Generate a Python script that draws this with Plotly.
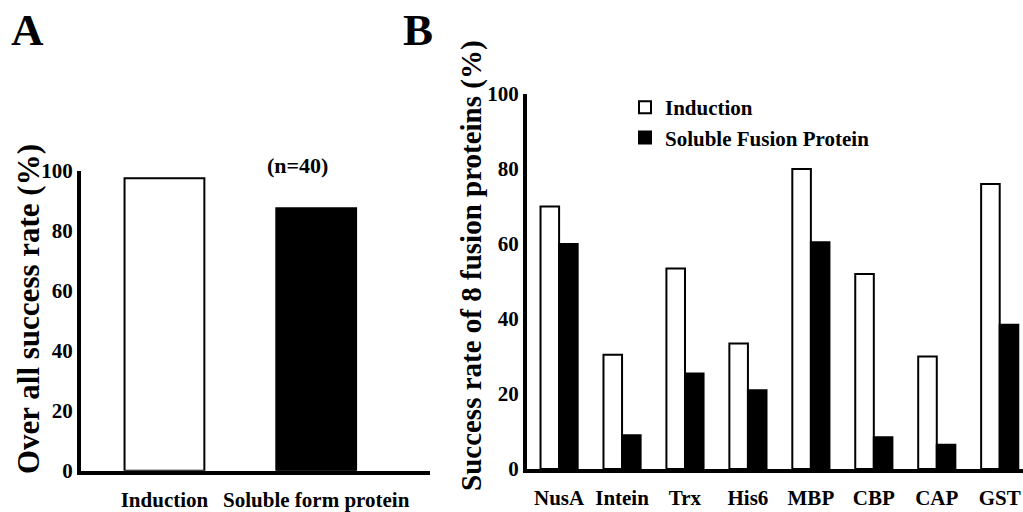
import plotly.graph_objects as go

# Panel A data
a_categories = ["Induction", "Soluble form protein"]
a_values = [97.5, 87.5]
a_colors = ["white", "black"]

# Panel B data
b_categories = ["NusA", "Intein", "Trx", "His6", "MBP", "CBP", "CAP", "GST"]
b_induction = [70, 30.5, 53.5, 33.5, 80, 52, 30, 76]
b_soluble = [60, 9, 25.5, 21, 60.5, 8.5, 6.5, 38.5]
y_ticks = [0, 20, 40, 60, 80, 100]

FONT = "Liberation Serif"

fig = go.Figure()

fig.add_trace(go.Bar(
    x=a_categories, y=a_values, width=0.526,
    marker=dict(color=a_colors, line=dict(color="black", width=2)),
    xaxis="x", yaxis="y", showlegend=False,
))

fig.add_trace(go.Bar(
    x=b_categories, y=b_induction, name="Induction",
    marker=dict(color="white", line=dict(color="black", width=2)),
    xaxis="x2", yaxis="y2",
))
fig.add_trace(go.Bar(
    x=b_categories, y=b_soluble, name="Soluble Fusion Protein",
    marker=dict(color="black", line=dict(color="black", width=2)),
    xaxis="x2", yaxis="y2",
))

axis_common = dict(showgrid=False, zeroline=False, showline=True, linecolor="black",
                   linewidth=4, ticks="", automargin=False)
xtick_font = dict(size=21, family=FONT, weight="bold", color="black")
ytick_font = dict(size=21, family=FONT, weight="bold", color="black")


def ann(text, x, y, size, angle=0):
    return dict(text=text, x=x / 1023, y=1 - y / 512, xref="paper", yref="paper",
                xanchor="center", yanchor="middle", textangle=angle, showarrow=False,
                font=dict(size=size, family=FONT, weight="bold", color="black"))


fig.update_layout(
    template="none",
    width=1023, height=512,
    margin=dict(l=0, r=0, t=0, b=0, pad=0, autoexpand=False),
    paper_bgcolor="white", plot_bgcolor="white",
    font=dict(family=FONT, color="black", weight="bold"),
    barmode="group", bargap=0.41, bargroupgap=0,
    xaxis=dict(domain=[81/1023, 430/1023], range=[-0.55, 1.75], anchor="y",
               ticklabelstandoff=7, tickfont=xtick_font, **axis_common),
    yaxis=dict(domain=[41.3/512, 341.3/512], range=[0, 100], anchor="x",
               tickvals=y_ticks, ticklabelstandoff=0, tickfont=ytick_font, **axis_common),
    xaxis2=dict(domain=[527/1023, 1.0], range=[-0.51, 7.37], anchor="y2",
                ticklabelstandoff=7, tickfont=xtick_font, **axis_common),
    yaxis2=dict(domain=[43/512, 418/512], range=[0, 100], anchor="x2",
                tickvals=y_ticks, ticklabelstandoff=0, tickfont=ytick_font, **axis_common),
    legend=dict(x=625/1023, y=1-87/512, xanchor="left", yanchor="top",
                font=dict(size=21, family=FONT, weight="bold", color="black"),
                bgcolor="rgba(0,0,0,0)", borderwidth=0, tracegroupgap=0),
    annotations=[
        ann("A", 27, 30, 45),
        ann("B", 418, 30, 45),
        ann("(n=40)", 297, 165, 22),
        ann("Over all success rate (%)", 28, 309, 31, -90),
        ann("Success rate of 8 fusion proteins (%)", 471, 266, 29, -90),
    ],
)

fig.write_html("out.html", config={"displayModeBar": False},
               post_script="document.body.style.margin='0';")
